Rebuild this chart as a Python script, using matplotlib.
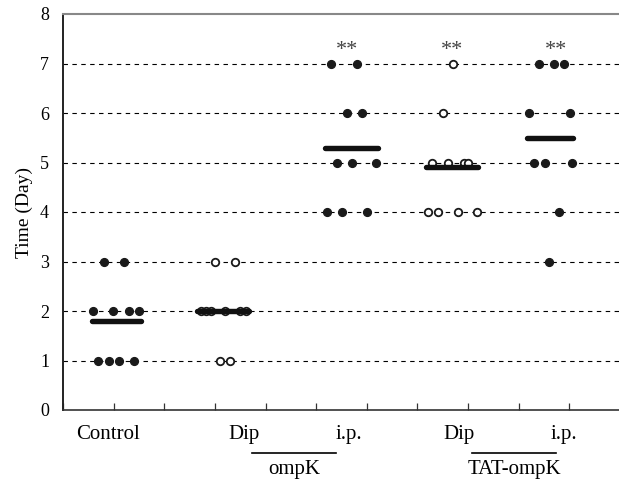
"""Survival time scatter (days) for control, ompK and TAT-ompK groups."""

import numpy as np
import matplotlib
matplotlib.use("Agg")
import matplotlib.pyplot as plt


# jittered x positions and day values for each group
control_x = [0.80, 1.21, 0.60, 0.99, 1.30, 1.50, 0.70, 0.91, 1.11, 1.40]
control_y = [3, 3, 2, 2, 2, 2, 1, 1, 1, 1]

ompk_dip_x = [3.00, 3.40, 2.73, 2.83, 2.92, 3.20, 3.50, 3.61, 3.10, 3.30]
ompk_dip_y = [3, 3, 2, 2, 2, 2, 2, 2, 1, 1]

ompk_ip_x = [5.30, 5.81, 5.61, 5.91, 5.41, 5.71, 6.19, 5.22, 5.51, 6.01]
ompk_ip_y = [7, 7, 6, 6, 5, 5, 5, 4, 4, 4]

tat_dip_x = [7.71, 7.51, 7.29, 7.61, 7.91, 8.00, 7.21, 7.41, 7.81, 8.18]
tat_dip_y = [7, 6, 5, 5, 5, 5, 4, 4, 4, 4]

tat_ip_x = [9.41, 9.70, 9.90, 9.21, 10.02, 9.31, 9.51, 10.06, 9.80, 9.60]
tat_ip_y = [7, 7, 7, 6, 6, 5, 5, 5, 4, 3]

# extent of each mean bar along x
mean_spans = [(0.57, 1.54), (2.65, 3.68), (5.18, 6.23), (7.17, 8.20), (9.17, 10.08)]

group_labels = ["Control", "Dip", "i.p.", "Dip", "i.p."]
group_label_x = [0.89, 3.58, 5.65, 7.83, 9.90]
route_labels = ["ompK", "TAT-ompK"]
route_spans = [(3.73, 5.40), (8.08, 9.74)]
star_x = [5.61, 7.69, 9.74]


def main() -> int:
    plt.rcParams.update(
        {
            "font.family": ["Liberation Serif", "DejaVu Serif"],
            "font.size": 13,
        }
    )

    fig = plt.figure(figsize=(6.19, 4.83), dpi=100)
    ax = fig.add_axes([63 / 619, 73 / 483, 557 / 619, 396 / 483])

    for lvl in range(1, 8):
        ax.axhline(lvl, color="black", linewidth=0.8, linestyle=(0, (4, 4)), zorder=1)

    filled = dict(marker="o", linestyle="none", markersize=5.6, color="#1a1a1a", zorder=3)
    hollow = dict(marker="o", linestyle="none", markersize=5.4, markerfacecolor="white",
                  markeredgecolor="#1a1a1a", markeredgewidth=1.3, zorder=3)

    groups = [
        (control_x, control_y, filled),
        (ompk_dip_x, ompk_dip_y, hollow),
        (ompk_ip_x, ompk_ip_y, filled),
        (tat_dip_x, tat_dip_y, hollow),
        (tat_ip_x, tat_ip_y, filled),
    ]
    for (gx, gy, style), (x0, x1) in zip(groups, mean_spans):
        ax.plot(gx, gy, **style)
        m = np.mean(gy)
        ax.plot([x0, x1], [m, m], color="#111111", linewidth=3.9,
                solid_capstyle="round", zorder=4)

    for sx in star_x:
        ax.text(sx, 7.18, "**", ha="center", va="baseline", fontsize=16, color="#444444")

    # category labels under the axis
    for lx, lab in zip(group_label_x, group_labels):
        ax.text(lx, -0.50, lab, ha="center", va="center", fontsize=15, clip_on=False)
    for (x0, x1), lab in zip(route_spans, route_labels):
        ax.plot([x0, x1], [-0.87, -0.87], color="black", linewidth=1.2, clip_on=False)
        ax.text((x0 + x1) / 2, -1.21, lab, ha="center", va="center", fontsize=15,
                clip_on=False)

    ax.set_xlim(0, 11)
    ax.set_ylim(0, 8)
    ax.set_xticks(range(0, 12))
    ax.set_xticklabels([])
    ax.set_yticks(range(0, 9))
    ax.tick_params(axis="x", direction="in", length=5, width=0.9, color="#333333")
    ax.tick_params(axis="y", length=0, pad=10, labelsize=13)
    ax.set_ylabel("Time (Day)", fontsize=14, labelpad=5)

    ax.spines["right"].set_visible(False)
    ax.spines["top"].set_color("#888888")
    ax.spines["top"].set_linewidth(1.5)
    ax.spines["left"].set_color("#222222")
    ax.spines["left"].set_linewidth(1.4)
    ax.spines["bottom"].set_color("#333333")
    ax.spines["bottom"].set_linewidth(1.2)

    fig.savefig("out.png", dpi=100)
    plt.close(fig)
    return 0


if __name__ == "__main__":
    raise SystemExit(main())
